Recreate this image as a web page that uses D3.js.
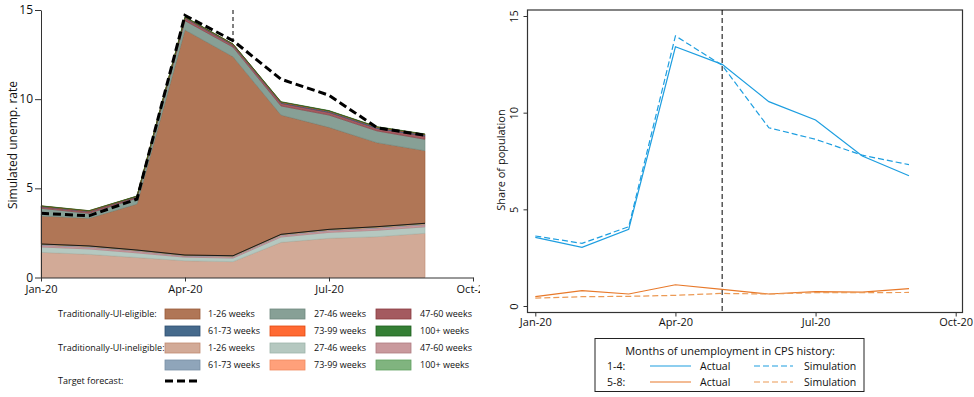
<!DOCTYPE html>
<html><head><meta charset="utf-8">
<script src="https://cdn.jsdelivr.net/npm/d3@7"></script>
<style>body{margin:0;background:#fff}svg{display:block}text{font-family:"Open Sans",sans-serif;fill:#111}</style>
</head><body><svg id="c" width="974" height="397"></svg>
<script>
// ---------- data ----------
const months = ["Jan-20","Feb-20","Mar-20","Apr-20","May-20","Jun-20","Jul-20","Aug-20","Sep-20"];
const tickLabels = ["Jan-20","Apr-20","Jul-20","Oct-20"];
const tickIdx = [0,3,6,9];
const yTicks = [0,5,10,15];

// Left panel: simulated unemployment rate, stacked (ineligible bottom, eligible on top)
const inel_1_26   = [1.41,1.30,1.12,0.94,0.89,1.97,2.20,2.29,2.48];
const inel_27_46  = [0.30,0.30,0.26,0.20,0.20,0.30,0.33,0.36,0.36];
const inel_47_60  = [0.10,0.10,0.10,0.07,0.08,0.09,0.10,0.12,0.12];
const inel_61_73  = [0.04,0.04,0.03,0.03,0.03,0.03,0.04,0.04,0.04];
const inel_73_99  = [0.02,0.02,0.02,0.01,0.01,0.02,0.02,0.02,0.02];
const inel_100    = [0.01,0.01,0.01,0.01,0.01,0.01,0.01,0.02,0.02];
const elig_1_26   = [1.57,1.55,2.58,12.62,11.16,6.69,5.72,4.71,4.07];
const elig_27_46  = [0.43,0.28,0.33,0.52,0.54,0.51,0.69,0.66,0.64];
const elig_47_60  = [0.09,0.09,0.07,0.14,0.11,0.15,0.15,0.14,0.18];
const elig_61_73  = [0.03,0.03,0.03,0.04,0.04,0.05,0.06,0.06,0.07];
const elig_73_99  = [0.01,0.02,0.01,0.02,0.02,0.02,0.02,0.02,0.03];
const elig_100    = [0.01,0.01,0.01,0.02,0.01,0.02,0.02,0.02,0.02];
const targetForecast = [3.60,3.46,4.40,14.70,13.28,11.12,10.22,8.40,7.97];

// Right panel: share of population by months of unemployment in CPS history
const actual_1_4 = [3.55,3.03,3.97,13.41,12.50,10.57,9.62,7.76,6.74];
const sim_1_4    = [3.62,3.24,4.10,13.97,12.45,9.22,8.62,7.80,7.31];
const actual_5_8 = [0.48,0.79,0.62,1.10,0.86,0.62,0.74,0.72,0.90];
const sim_5_8    = [0.41,0.48,0.50,0.55,0.65,0.62,0.69,0.69,0.70];

const layerKeys = ["inel_1_26","inel_27_46","inel_47_60","inel_61_73","inel_73_99","inel_100",
                   "elig_1_26","elig_27_46","elig_47_60","elig_61_73","elig_73_99","elig_100"];
const layerVals = [inel_1_26,inel_27_46,inel_47_60,inel_61_73,inel_73_99,inel_100,
                   elig_1_26,elig_27_46,elig_47_60,elig_61_73,elig_73_99,elig_100];
const bandLabels = ["1-26 weeks","27-46 weeks","47-60 weeks","61-73 weeks","73-99 weeks","100+ weeks"];
const fills = {
  elig_1_26:"#b07656", elig_27_46:"#87a096", elig_47_60:"#a45a60", elig_61_73:"#466a8c", elig_73_99:"#ff6a33", elig_100:"#357f35",
  inel_1_26:"#d2aa97", inel_27_46:"#b5c8c0", inel_47_60:"#c9999d", inel_61_73:"#8fa5ba", inel_73_99:"#ffa07a", inel_100:"#80b47f"
};
const strokes = {
  elig_1_26:"#9a5a38", elig_27_46:"#6f887e", elig_47_60:"#8a3a40", elig_61_73:"#2e4f70", elig_73_99:"#e04a10", elig_100:"#1f5f1f",
  inel_1_26:"#c08a70", inel_27_46:"#9fb5ab", inel_47_60:"#b07a80", inel_61_73:"#7890a5", inel_73_99:"#f08a60", inel_100:"#60a060"
};

const svg = d3.select("#c");

// ---------- left panel ----------
svg.append("defs").append("clipPath").attr("id","lclip").append("rect").attr("x",0).attr("y",0).attr("width",480).attr("height",397);
const L = svg.append("g").attr("clip-path","url(#lclip)");
const xL = d3.scaleLinear().domain([0,9]).range([41,473]);
const yL = d3.scaleLinear().domain([0,15]).range([277.5,10]);

const rows = months.map((m,i)=>{const o={i}; layerKeys.forEach((k,j)=>o[k]=layerVals[j][i]); return o;});
const stack = d3.stack().keys(layerKeys)(rows);

// vertical dashed line at May
L.append("line").attr("x1",xL(4)).attr("x2",xL(4)).attr("y1",yL(15)).attr("y2",yL(12))
  .attr("stroke","#000").attr("stroke-width",1).attr("stroke-dasharray","4,3");

const area = d3.area().x(d=>xL(d.data.i)).y0(d=>yL(d[0])).y1(d=>yL(d[1]));
L.selectAll("path.layer").data(stack).join("path").attr("class","layer")
  .attr("d",area).attr("fill",d=>fills[d.key]).attr("stroke",d=>strokes[d.key]).attr("stroke-width",0.6);

// dark line at top of ineligible stack
const inelTop = stack[5];
L.append("path").attr("d",d3.line().x(d=>xL(d.data.i)).y(d=>yL(d[1]))(inelTop))
  .attr("fill","none").attr("stroke","#1a1a1a").attr("stroke-width",1);

// target forecast
L.append("path").attr("d",d3.line().x((d,i)=>xL(i)).y(d=>yL(d))(targetForecast))
  .attr("fill","none").attr("stroke","#000").attr("stroke-width",3).attr("stroke-dasharray","8,4");

// axes
const axL = L.append("g").attr("transform","translate(0,277.5)")
  .call(d3.axisBottom(xL).tickValues(tickIdx).tickFormat((d,i)=>tickLabels[i]).tickSize(4).tickSizeOuter(0));
axL.select(".domain").attr("stroke","#333");
axL.selectAll("text").attr("font-size",11).attr("dy","0.78em").attr("fill","#111");
axL.selectAll(".tick line").attr("stroke","#333");
const ayL = L.append("g").attr("transform","translate(41,0)")
  .call(d3.axisLeft(yL).tickValues(yTicks).tickSize(6).tickPadding(2).tickSizeOuter(0));
ayL.select(".domain").attr("stroke","#333");
ayL.selectAll("text").attr("font-size",12).attr("fill","#111").attr("dy","0.3em");
ayL.selectAll(".tick line").attr("stroke","#333");
L.append("text").attr("transform","translate(17,145) rotate(-90)").attr("text-anchor","middle")
  .attr("font-size",12).text("Simulated unemp. rate");

// left legend
const rowY = [314,331,348,365,381];
const colSw = [165,270,376], colTx = [208,314,420];
const LG = svg.append("g");
LG.append("text").attr("x",58).attr("y",rowY[0]).attr("dy","0.35em").attr("font-size",9).text("Traditionally-UI-eligible:");
LG.append("text").attr("x",58).attr("y",rowY[2]).attr("dy","0.35em").attr("font-size",9).text("Traditionally-UI-ineligible:");
LG.append("text").attr("x",58).attr("y",rowY[4]).attr("dy","0.35em").attr("font-size",9).text("Target forecast:");
["elig","inel"].forEach((grp,g)=>{
  bandLabels.forEach((lab,b)=>{
    const key = layerKeys[(g===0?6:0)+b];
    const r = rowY[g*2 + Math.floor(b/3)], c = b%3;
    LG.append("rect").attr("x",colSw[c]).attr("y",r-5).attr("width",35).attr("height",10)
      .attr("fill",fills[key]).attr("stroke",strokes[key]).attr("stroke-width",0.8);
    LG.append("text").attr("x",colTx[c]).attr("y",r).attr("dy","0.35em").attr("font-size",9).text(lab);
  });
});
LG.append("line").attr("x1",165).attr("x2",200).attr("y1",rowY[4]).attr("y2",rowY[4])
  .attr("stroke","#000").attr("stroke-width",3).attr("stroke-dasharray","8,4");

// ---------- right panel ----------
const xR = d3.scaleLinear().domain([0,9]).range([535.3,955.7]);
const yR = d3.scaleLinear().domain([0,15]).range([306,16]);
const R = svg.append("g");
R.append("rect").attr("x",527.5).attr("y",10).attr("width",435).attr("height",302.5)
  .attr("fill","none").attr("stroke","#333").attr("stroke-width",1.2);
const axR = R.append("g").attr("transform","translate(0,312.5)")
  .call(d3.axisBottom(xR).tickValues(tickIdx).tickFormat((d,i)=>tickLabels[i]).tickSize(4).tickSizeOuter(0));
axR.select(".domain").remove();
axR.selectAll(".tick line").attr("stroke","#333");
axR.selectAll("text").attr("font-size",11).attr("dy","0.55em").attr("fill","#111");
const ayR = R.append("g").attr("transform","translate(527.5,0)")
  .call(d3.axisLeft(yR).tickValues(yTicks).tickSize(4).tickSizeOuter(0));
ayR.select(".domain").remove();
ayR.selectAll(".tick line").attr("stroke","#333");
ayR.selectAll("text").attr("font-size",11).attr("fill","#111")
  .attr("x",0).attr("dy",0).attr("text-anchor","middle").attr("transform","translate(-10,0) rotate(-90)");
R.append("text").attr("transform","translate(505,160) rotate(-90)").attr("text-anchor","middle")
  .attr("font-size",11).text("Share of population");
R.append("line").attr("x1",xR(4)).attr("x2",xR(4)).attr("y1",10).attr("y2",312.5)
  .attr("stroke","#000").attr("stroke-width",1).attr("stroke-dasharray","5,3");

const blue = "#1d9ee0", orange = "#e8792a", orangeL = "#ec9a55";
const lineR = d3.line().x((d,i)=>xR(i)).y(d=>yR(d));
[[actual_1_4,blue,null],[sim_1_4,blue,"6,3"],[actual_5_8,orange,null],[sim_5_8,orangeL,"6,3"]].forEach(([v,c,da])=>{
  R.append("path").attr("d",lineR(v)).attr("fill","none").attr("stroke",c).attr("stroke-width",1.2)
    .attr("stroke-dasharray",da);
});

// right legend
const RG = svg.append("g");
RG.append("rect").attr("x",595).attr("y",338.5).attr("width",269).attr("height",53)
  .attr("fill","#fff").attr("stroke","#222").attr("stroke-width",1);
RG.append("text").attr("x",730).attr("y",351).attr("dy","0.35em").attr("text-anchor","middle").attr("font-size",11)
  .text("Months of unemployment in CPS history:");
[["1-4:",blue,blue,366],["5-8:",orange,orangeL,382]].forEach(([lab,c1,c2,yy])=>{
  RG.append("text").attr("x",607).attr("y",yy).attr("dy","0.35em").attr("font-size",10.5).text(lab);
  RG.append("line").attr("x1",650).attr("x2",691).attr("y1",yy).attr("y2",yy).attr("stroke",c1).attr("stroke-width",1.2);
  RG.append("text").attr("x",700).attr("y",yy).attr("dy","0.35em").attr("font-size",10.5).text("Actual");
  RG.append("line").attr("x1",754).attr("x2",793).attr("y1",yy).attr("y2",yy).attr("stroke",c2).attr("stroke-width",1.2).attr("stroke-dasharray","6,3");
  RG.append("text").attr("x",804).attr("y",yy).attr("dy","0.35em").attr("font-size",10.5).text("Simulation");
});
</script></body></html>
